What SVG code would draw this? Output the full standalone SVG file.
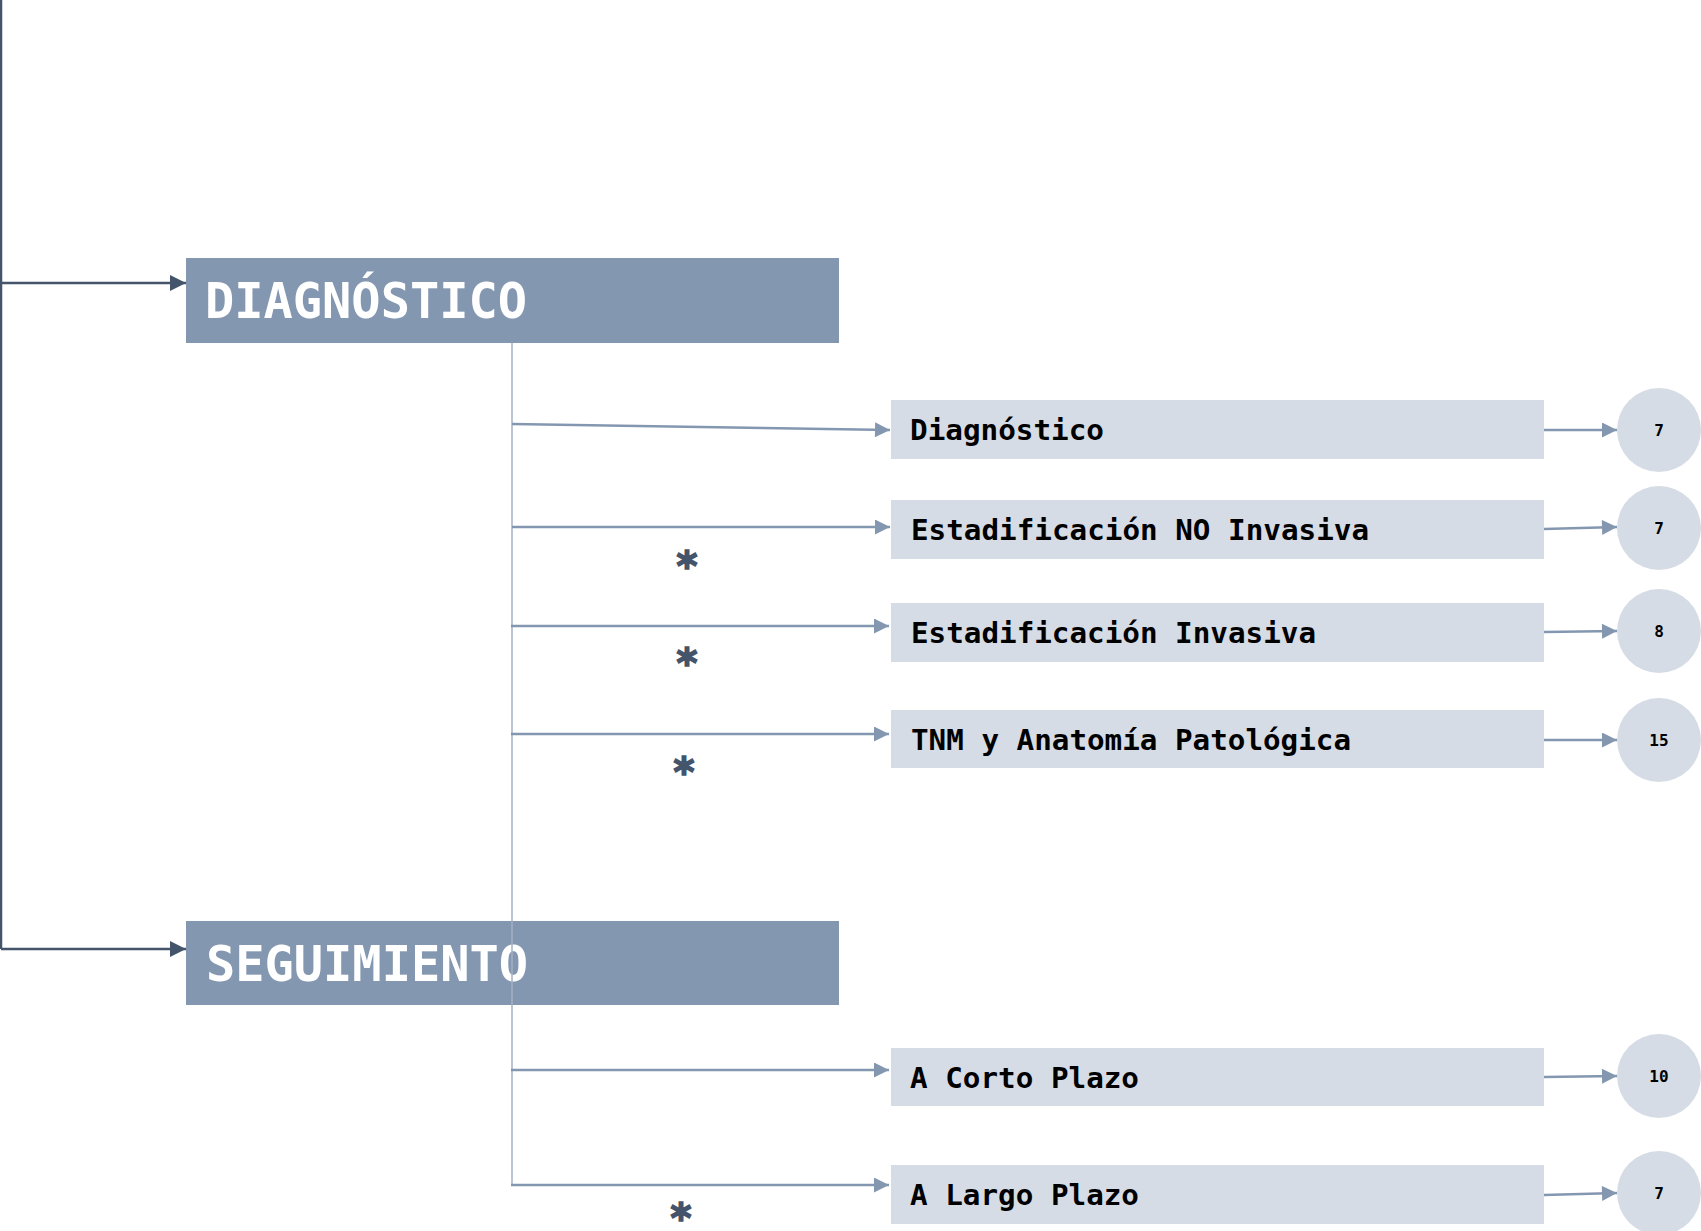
<svg xmlns="http://www.w3.org/2000/svg" width="1701" height="1231" viewBox="0 0 1701 1231">
<style>
.main{fill:#8497b0}
.sub{fill:#d6dce5}
.mtxt{font-family:"DejaVu Sans Mono","Liberation Mono",monospace;font-weight:bold;font-size:50px;fill:#ffffff}
.stxt{font-family:"DejaVu Sans Mono","Liberation Mono",monospace;font-weight:bold;font-size:29px;fill:#000000}
.ntxt{font-family:"DejaVu Sans Mono","Liberation Mono",monospace;font-weight:bold;font-size:16px;fill:#000000;text-anchor:middle}
.ast{font-family:"DejaVu Sans","Liberation Sans",sans-serif;font-weight:bold;font-size:40px;fill:#44546a;stroke:#44546a;stroke-width:1.6;text-anchor:middle}
.dark{stroke:#44546a;stroke-width:2.5;fill:none}
.br{stroke:#8497b0;stroke-width:2.5;fill:none}
.trunk{stroke:#a3b1c4;stroke-width:1.5;fill:none}
</style>
<defs>
<marker id="ad" viewBox="0 0 10 10" refX="10" refY="5" markerWidth="16" markerHeight="16" markerUnits="userSpaceOnUse" orient="auto"><path d="M0,0L10,5L0,10z" fill="#44546a"/></marker>
<marker id="ab" viewBox="0 0 10 10" refX="10" refY="5" markerWidth="16" markerHeight="15" markerUnits="userSpaceOnUse" orient="auto"><path d="M0,0L10,5L0,10z" fill="#8497b0"/></marker>
</defs>
<g id="n-diag">
<rect class="main" x="186" y="258" width="653" height="85"/>
<text class="mtxt" x="205" y="318" textLength="322" lengthAdjust="spacingAndGlyphs">DIAGNÓSTICO</text>
</g>
<g id="n-seg">
<rect class="main" x="186" y="921" width="653" height="84"/>
<text class="mtxt" x="206" y="981" textLength="322" lengthAdjust="spacingAndGlyphs">SEGUIMIENTO</text>
</g>
<g id="n-s1"><rect class="sub" x="891" y="400" width="653" height="59"/><text class="stxt" x="910" y="440" textLength="194" lengthAdjust="spacingAndGlyphs">Diagnóstico</text></g>
<g id="n-s2"><rect class="sub" x="891" y="500" width="653" height="59"/><text class="stxt" x="911" y="540" textLength="458" lengthAdjust="spacingAndGlyphs">Estadificación NO Invasiva</text></g>
<g id="n-s3"><rect class="sub" x="891" y="603" width="653" height="59"/><text class="stxt" x="911" y="643" textLength="405" lengthAdjust="spacingAndGlyphs">Estadificación Invasiva</text></g>
<g id="n-s4"><rect class="sub" x="891" y="710" width="653" height="58"/><text class="stxt" x="911" y="750" textLength="440" lengthAdjust="spacingAndGlyphs">TNM y Anatomía Patológica</text></g>
<g id="n-s5"><rect class="sub" x="891" y="1048" width="653" height="58"/><text class="stxt" x="910" y="1088" textLength="229" lengthAdjust="spacingAndGlyphs">A Corto Plazo</text></g>
<g id="n-s6"><rect class="sub" x="891" y="1165" width="653" height="59"/><text class="stxt" x="910" y="1205" textLength="229" lengthAdjust="spacingAndGlyphs">A Largo Plazo</text></g>
<g id="n-c1"><circle class="sub" cx="1659" cy="430" r="42"/><text class="ntxt" x="1659" y="436">7</text></g>
<g id="n-c2"><circle class="sub" cx="1659" cy="528" r="42"/><text class="ntxt" x="1659" y="534">7</text></g>
<g id="n-c3"><circle class="sub" cx="1659" cy="631" r="42"/><text class="ntxt" x="1659" y="637">8</text></g>
<g id="n-c4"><circle class="sub" cx="1659" cy="740" r="42"/><text class="ntxt" x="1659" y="746">15</text></g>
<g id="n-c5"><circle class="sub" cx="1659" cy="1076" r="42"/><text class="ntxt" x="1659" y="1082">10</text></g>
<g id="n-c6"><circle class="sub" cx="1659" cy="1193" r="42"/><text class="ntxt" x="1659" y="1199">7</text></g>
<g id="connectors">
<path class="dark" d="M1,0V949"/>
<path class="dark" d="M1,283H186" marker-end="url(#ad)"/>
<path class="dark" d="M1,949H186" marker-end="url(#ad)"/>
<path class="trunk" d="M512,343V1186"/>
<path class="br" d="M512,424L890,430" marker-end="url(#ab)"/>
<path class="br" d="M512,527H890" marker-end="url(#ab)"/>
<path class="br" d="M511,626H889" marker-end="url(#ab)"/>
<path class="br" d="M511,734H889" marker-end="url(#ab)"/>
<path class="br" d="M511,1070H889" marker-end="url(#ab)"/>
<path class="br" d="M511,1185H889" marker-end="url(#ab)"/>
<path class="br" d="M1544,430H1617" marker-end="url(#ab)"/>
<path class="br" d="M1544,529L1617,527" marker-end="url(#ab)"/>
<path class="br" d="M1544,632L1617,631" marker-end="url(#ab)"/>
<path class="br" d="M1544,740H1617" marker-end="url(#ab)"/>
<path class="br" d="M1544,1077L1617,1076" marker-end="url(#ab)"/>
<path class="br" d="M1544,1195L1617,1193" marker-end="url(#ab)"/>
</g>
<text class="ast" x="687" y="580">*</text>
<text class="ast" x="687" y="677">*</text>
<text class="ast" x="684" y="786">*</text>
<text class="ast" x="681" y="1232">*</text>
</svg>
